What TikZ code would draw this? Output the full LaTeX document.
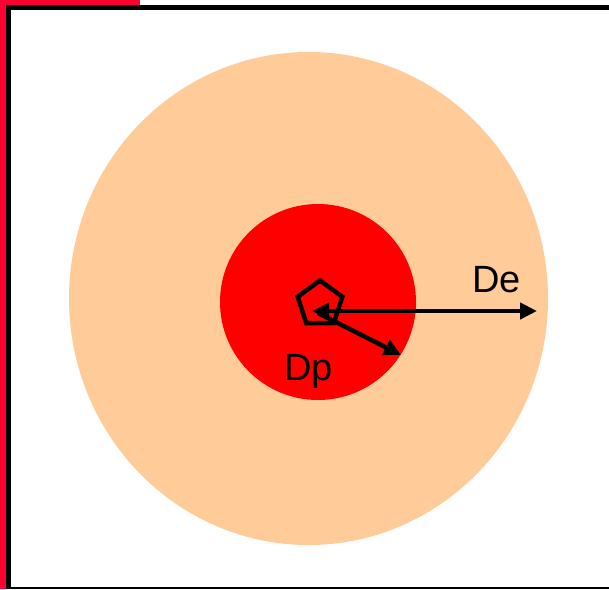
\documentclass[tikz,border=0pt]{standalone}
\usepackage{fontspec}
\setmainfont{Liberation Sans}
\usetikzlibrary{arrows.meta,shapes.geometric}
\definecolor{peach}{RGB}{255,204,153}
\definecolor{strip}{RGB}{255,0,51}
\begin{document}
\begin{tikzpicture}[x=1pt,y=-1pt,
  arr/.style={line width=4.5pt, -{Triangle[length=17pt,width=16pt]}},
  darr/.style={line width=4.5pt, {Triangle[length=17pt,width=16pt]}-{Triangle[length=17pt,width=16pt]}},
  lbl/.style={font=\fontsize{38}{44}\selectfont, inner sep=0pt, anchor=base west}]
\useasboundingbox (0,0) rectangle (609,589);
\fill[strip] (0,0) rectangle (6,589);
\fill[strip] (0,0) rectangle (140,5);
\fill[black] (6,5) rectangle (609,10);
\fill[black] (6,5) rectangle (11,589);
\fill[black] (6,587) rectangle (609,589);
\node[ellipse, fill=peach, minimum width=479pt, minimum height=493pt, inner sep=0pt] (outer) at (308.5,298.5) {};
\node[circle, fill=red, minimum size=196pt, inner sep=0pt] (inner) at (318,302) {};
\node[regular polygon, regular polygon sides=5, draw, line width=4.5pt, minimum size=47pt, inner sep=0pt] (penta) at (320,304) {};
\coordinate (deL) at (312,311);
\coordinate (deR) at (537,311);
\draw[darr] (deL) -- (deR);
\coordinate (dpS) at (318,313);
\coordinate (dpE) at (401,355);
\draw[arr] (dpS) -- (dpE);
\node[lbl] (de) at (472,292) {De};
\node[lbl] (dp) at (284,380) {Dp};
\end{tikzpicture}
\end{document}
